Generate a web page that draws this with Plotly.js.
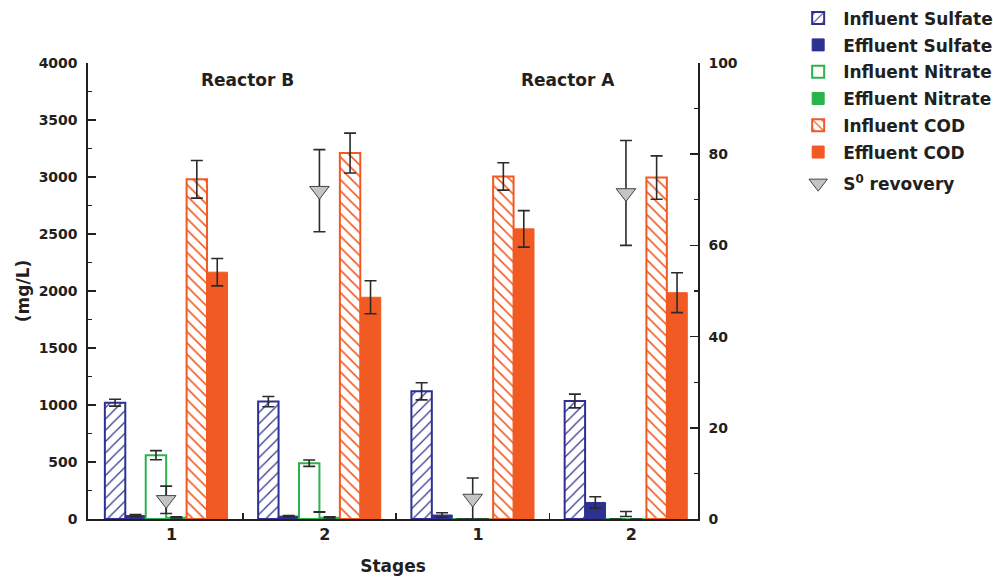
<!DOCTYPE html>
<html>
<head>
<meta charset="utf-8">
<script src="https://cdn.plot.ly/plotly-3.0.1.min.js"></script>
<style>html,body{margin:0;padding:0;background:#fff;}#chart{width:993px;height:579px;}</style>
</head>
<body>
<div id="chart"></div>
<script>
// Stage positions (Reactor B: stages 1,2 ; Reactor A: stages 1,2)
const stagePos = [0, 1, 2, 3];
const stageLabels = ['1', '2', '1', '2'];

const influentSulfate = [1020, 1030, 1120, 1035];
const influentSulfateErr = [30, 45, 75, 60];
const effluentSulfate = [30, 25, 35, 145];
const effluentSulfateErr = [8, 6, 20, 50];
const influentNitrate = [560, 490, 0, 0];
const influentNitrateErr = [40, 28, 0, 0];
const effluentNitrate = [15, 15, 0, 0];
const effluentNitrateErr = [5, 5, 0, 0];
const influentCOD = [2980, 3210, 3005, 2995];
const influentCODErr = [165, 175, 120, 190];
const effluentCOD = [2165, 1945, 2545, 1985];
const effluentCODErr = [120, 145, 160, 175];
// S0 recovery (%), right axis
const s0Recovery = [4.2, 72, 4.5, 71.5];
const s0RecoveryErr = [3, 9, 4.5, 11.5];
// small unlabelled error bars at stage centres (mg/L)
const centreExtra = [null, 61, null, 44];
const centreExtraErr = [null, 2, null, 22];

const blue = '#2e3192', green = '#2bb34b', orange = '#f15a22', errCol = '#2b2b2b';

function err(arr) {
  return {type: 'data', array: arr, visible: true, color: errCol, thickness: 1.6, width: 6};
}

const traces = [
  {type: 'bar', name: 'Influent Sulfate', legendgroup: 'g1', x: stagePos, y: influentSulfate, error_y: err(influentSulfateErr),
   marker: {color: 'white', line: {color: blue, width: 2}, pattern: {shape: '/', fgcolor: blue, bgcolor: 'white', size: 8, solidity: 0.15}}},
  {type: 'bar', name: 'Effluent Sulfate', legendgroup: 'g2', x: stagePos, y: effluentSulfate, error_y: err(effluentSulfateErr),
   marker: {color: blue, line: {color: blue, width: 1}}},
  {type: 'bar', name: 'Influent Nitrate', legendgroup: 'g3', x: stagePos, y: influentNitrate, error_y: err(influentNitrateErr),
   marker: {color: 'white', line: {color: green, width: 2}}},
  {type: 'bar', name: 'Effluent Nitrate', legendgroup: 'g4', x: stagePos, y: effluentNitrate, error_y: err(effluentNitrateErr),
   marker: {color: green, line: {color: green, width: 1}}},
  {type: 'bar', name: 'Influent COD', legendgroup: 'g5', x: stagePos, y: influentCOD, error_y: err(influentCODErr),
   marker: {color: 'white', line: {color: orange, width: 2}, pattern: {shape: '\\', fgcolor: orange, bgcolor: 'white', size: 8, solidity: 0.2}}},
  {type: 'bar', name: 'Effluent COD', legendgroup: 'g6', x: stagePos, y: effluentCOD, error_y: err(effluentCODErr),
   marker: {color: orange, line: {color: orange, width: 1}}},
  {type: 'scatter', mode: 'markers', name: 'extra', showlegend: false, x: stagePos, y: centreExtra,
   error_y: err(centreExtraErr), marker: {opacity: 0, size: 1}, hoverinfo: 'skip'},
  {type: 'scatter', mode: 'markers', name: 'S<sup>0</sup> revovery', legend: 'legend2', x: stagePos, y: s0Recovery, yaxis: 'y2',
   error_y: err(s0RecoveryErr),
   marker: {symbol: 'triangle-down', size: 17, color: '#c4c4c4', line: {color: '#444', width: 1}}}
];

const fontFam = '"DejaVu Sans", Arial, sans-serif';
const txt = '#231f20';
const legendFont = {size: 17, weight: 'bold', family: fontFam, color: txt};
const layout = {
  width: 993, height: 579,
  margin: {l: 88, r: 295, t: 63, b: 60, autoexpand: false},
  paper_bgcolor: 'white', plot_bgcolor: 'white',
  font: {family: fontFam, color: txt},
  barmode: 'group', bargap: 0.2, bargroupgap: 0,
  showlegend: true,
  legend: {x: 1.156, xanchor: 'left', y: 1.137, yanchor: 'top', bgcolor: 'rgba(0,0,0,0)',
           font: legendFont, itemwidth: 40, tracegroupgap: 1.7},
  legend2: {x: 1.156, xanchor: 'left', y: 0.775, yanchor: 'top', bgcolor: 'rgba(0,0,0,0)',
           font: legendFont, itemwidth: 40},
  xaxis: {
    range: [-0.51, 3.47], tickmode: 'array', tickvals: stagePos.map(v => v + 0.035), ticktext: stageLabels,
    ticks: '', showline: true, linecolor: txt, linewidth: 1.6, showgrid: false, zeroline: false,
    tickfont: {size: 16, weight: 'bold', family: fontFam},
    minor: {tickmode: 'array', tickvals: [0.5, 1.5, 2.5], ticks: 'inside', ticklen: 6, tickwidth: 1.5, tickcolor: txt, showgrid: false},
    title: {text: 'Stages', font: {size: 17, weight: 'bold', family: fontFam}, standoff: 17}
  },
  yaxis: {
    range: [0, 4000], dtick: 500, ticks: 'inside', ticklen: 8, tickwidth: 1.5, tickcolor: txt,
    showline: true, linecolor: txt, linewidth: 1.6, showgrid: false, zeroline: false,
    tickfont: {size: 14, weight: 'bold', family: fontFam}, ticklabelstandoff: 6,
    minor: {dtick: 250, ticks: 'inside', ticklen: 4, tickwidth: 1.2, tickcolor: txt, showgrid: false},
    title: {text: '(mg/L)', font: {size: 17, weight: 'bold', family: fontFam}, standoff: 4}
  },
  yaxis2: {
    range: [0, 100], dtick: 20, overlaying: 'y', side: 'right', ticks: 'inside', ticklen: 8, tickwidth: 1.5, tickcolor: txt,
    showline: true, linecolor: txt, linewidth: 1.6, showgrid: false, zeroline: false,
    tickfont: {size: 14, weight: 'bold', family: fontFam}, ticklabelstandoff: 6,
    minor: {dtick: 10, ticks: 'inside', ticklen: 4, tickwidth: 1.2, tickcolor: txt, showgrid: false}
  },
  annotations: [
    {text: 'Reactor B', x: 0.53, xref: 'x', y: 0.963, yref: 'paper', yanchor: 'middle', showarrow: false, font: {size: 17, weight: 'bold', family: fontFam}},
    {text: 'Reactor A', x: 2.62, xref: 'x', y: 0.963, yref: 'paper', yanchor: 'middle', showarrow: false, font: {size: 17, weight: 'bold', family: fontFam}}
  ]
};

Plotly.newPlot('chart', traces, layout, {displayModeBar: false, staticPlot: true});
</script>
</body>
</html>
